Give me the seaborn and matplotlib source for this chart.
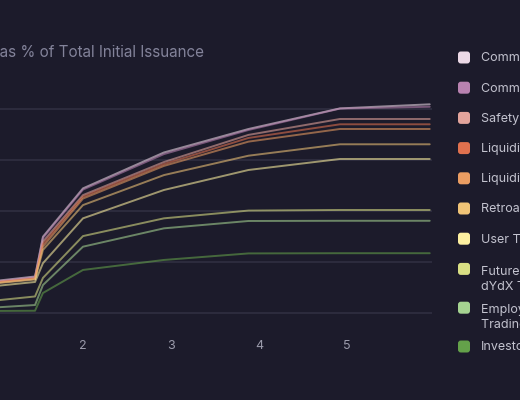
import matplotlib
matplotlib.use("Agg")
import matplotlib.pyplot as plt
import numpy as np
import pandas as pd
import seaborn as sns
from matplotlib.patches import FancyBboxPatch

# ---------------- data ----------------
years = [1.0, 1.455, 1.545, 2.0, 2.92, 3.88, 4.92, 5.94]

series_names = [
    "Community Treasury",
    "Community Treasury (Vested)",
    "Safety Staking Pool",
    "Liquidity Staking Pool",
    "Liquidity Provider Rewards",
    "Retroactive Mining Rewards",
    "User Trading Rewards",
    "Future Employees & Consultants of\ndYdX Trading Inc.",
    "Employees & Consultants of dYdX\nTrading Inc.",
    "Investors",
]
series_colors = [
    "#ecd9e6", "#b882b0", "#e3a49c", "#e0714e", "#eb9d62",
    "#f0c477", "#fdf0a0", "#d9df84", "#a5d391", "#64a14a",
]

community_treasury = [15.7, 17.9, 37.4, 61.1, 78.7, 90.2, 100.3, 102.3]
community_vested = [15.4, 17.6, 36.8, 60.5, 77.9, 89.7, 100.2, 101.1]
safety_staking = [15.2, 17.2, 35.0, 57.8, 74.0, 87.3, 95.1, 95.1]
liquidity_staking = [15.0, 16.9, 33.8, 57.0, 73.0, 85.8, 92.5, 92.5]
liquidity_provider = [14.7, 16.7, 32.5, 56.1, 72.1, 84.0, 90.2, 90.2]
retroactive_mining = [14.5, 16.4, 30.9, 52.9, 67.6, 77.1, 82.7, 82.7]
user_trading = [13.2, 15.2, 24.4, 46.4, 60.3, 70.1, 75.5, 75.5]
future_employees = [6.1, 8.1, 17.2, 37.7, 46.4, 50.2, 50.5, 50.5]
employees = [2.7, 3.9, 13.7, 32.5, 41.5, 45.1, 45.2, 45.2]
investors = [1.0, 1.1, 9.8, 21.1, 26.0, 29.2, 29.3, 29.3]

series_values = [
    community_treasury, community_vested, safety_staking, liquidity_staking,
    liquidity_provider, retroactive_mining, user_trading, future_employees,
    employees, investors,
]

y_ticks = [0, 25, 50, 75, 100]
x_ticks = [2, 3, 4, 5]
title_text = "DYDX Token Supply as % of Total Initial Issuance"

# ---------------- build table ----------------
rows = []
for name, vals in zip(series_names, series_values):
    for yr, v in zip(years, vals):
        rows.append({"year": yr, "pct": v, "series": name})
df = pd.DataFrame(rows)

# ---------------- style ----------------
BG = "#1c1b2b"
sns.set_theme(style="dark")
plt.rcParams["font.family"] = ["Inter", "DejaVu Sans"]

fig = plt.figure(figsize=(5.2, 4.0), dpi=100, facecolor=BG)
W, H = 520, 400
ax_left_px, ax_right_px = 0, 432
ax_top_px, ax_bot_px = 88.6, 329.3
ax = fig.add_axes([ax_left_px / W, 1 - ax_bot_px / H,
                   (ax_right_px - ax_left_px) / W, (ax_bot_px - ax_top_px) / H])
ax.set_facecolor(BG)

sns.lineplot(data=df, x="year", y="pct", hue="series", hue_order=series_names,
             palette=dict(zip(series_names, series_colors)), sort=False,
             legend=False, linewidth=1.4, alpha=0.58, ax=ax)

ax.set_xlim(1.057, 5.966)
ax.set_ylim(-8, 110)
ax.set_xticks(x_ticks)
ax.set_xticklabels([str(t) for t in x_ticks])
ax.set_yticks(y_ticks)
ax.tick_params(axis="x", length=0, pad=8, colors="#9b9bab", labelsize=9)
ax.tick_params(axis="y", length=0, labelleft=False)
ax.grid(axis="y", color="#2e2d40", linewidth=1.3)
ax.grid(axis="x", visible=False)
ax.set_xlabel("")
ax.set_ylabel("")
for s in ax.spines.values():
    s.set_visible(False)

# title (partly outside the crop on the left)
fig.text(204 / W, 1 - 57 / H, title_text, ha="right", va="baseline",
         color="#83839a", fontsize=10.95)

# legend, HTML-like: square aligned to first text line
tr = fig.dpi_scale_trans
line_gap = 16.7
yc = 57.5
for name, col in zip(series_names, series_colors):
    n_lines = name.count("\n") + 1
    sq = FancyBboxPatch((4.58, (H - yc - 6) / 100), 0.12, 0.12,
                        boxstyle="round,pad=0,rounding_size=0.028",
                        transform=tr, facecolor=col, edgecolor="none")
    fig.patches.append(sq)
    fig.text(4.81, (H - yc - 4.0 - (n_lines - 1) * line_gap) / 100, name,
             transform=tr, ha="left", va="baseline", color="#c3c3cf",
             fontsize=9, linespacing=1.33)
    yc += 38.8 if n_lines > 1 else 30.2

fig.savefig("out.png", dpi=100, facecolor=BG)
